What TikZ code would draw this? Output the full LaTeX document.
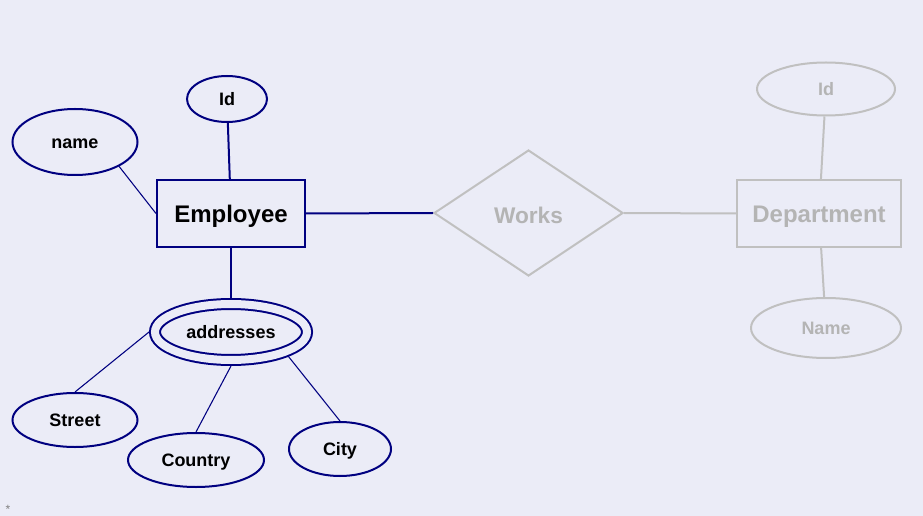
\documentclass[tikz,border=0pt]{standalone}
\usepackage{fontspec}
\setmainfont{Liberation Sans}
\usetikzlibrary{shapes.geometric}
\usetikzlibrary{positioning}
\definecolor{erblue}{RGB}{0,0,128}
\definecolor{ergrey}{RGB}{192,192,192}
\definecolor{ergreytext}{RGB}{180,180,180}
\definecolor{slidebg}{RGB}{235,236,247}
\tikzset{
    attribute/.style={
        draw=erblue,
        line width=1.5pt,
        ellipse,
        inner sep=0,
        text height=12.2pt,
        text depth=2.9pt,
        font=\fontsize{13.5}{16}\selectfont\bfseries,
    },
    multi attribute/.style={
        attribute,
        double=slidebg,
        double distance=6pt,
        outer sep=4.5pt,
    },
    entity/.style={
        draw=erblue,
        line width=1.5pt,
        rectangle,
        inner sep=0,
        text height=17.3pt,
        text depth=3.8pt,
        font=\fontsize{18}{21}\selectfont\bfseries,
    },
    relation/.style={
        draw=ergrey,
        line width=1.5pt,
        diamond,
        aspect=1.5,
        inner sep=0,
        text height=19pt,
        text depth=3.6pt,
        text=ergreytext,
        font=\fontsize{17}{20}\selectfont\bfseries,
    },
    faded/.style={
        draw=ergrey,
        text=ergreytext,
    },
    thin link/.style={
        draw=erblue,
        line width=0.8pt,
    },
    thick link/.style={
        draw=erblue,
        line width=1.5pt,
    },
    faded link/.style={
        draw=ergrey,
        line width=1.5pt,
    },
}

\begin{document}
\begin{tikzpicture}[x=0.75pt, y=-0.75pt]

    \fill[slidebg] (0,0) rectangle (923,516);
    \useasboundingbox (0,0) rectangle (923,516);

    % Employee and its attributes
    \node[entity, minimum width=111pt, minimum height=50.25pt] (employee) at (231,213.5) {Employee};
    \node[attribute, minimum width=60pt, minimum height=34.5pt] (empid) at (227,99) {Id};
    \node[attribute, minimum width=93.75pt, minimum height=49.5pt] (empname) at (75,142) {name};
    \node[multi attribute, minimum width=114pt, minimum height=42pt] (addr) at (231,332) {addresses};

    \node[attribute, minimum width=93.75pt, minimum height=40.5pt] (street) at (75,420) {Street};
    \node[attribute, minimum width=102pt, minimum height=40.5pt] (country) at (196,460) {Country};
    \node[attribute, minimum width=76.5pt, minimum height=40.5pt] (city) at (340,449) {City};

    % Works / Department (greyed out)
    \node[relation, minimum width=141.75pt, minimum height=94.5pt] (works) at (528.5,213) {Works};
    \node[entity, faded, minimum width=123pt, minimum height=50.25pt] (dept) at (819,213.5) {Department};
    \node[attribute, faded, minimum width=103.5pt, minimum height=39.75pt] (deptid) at (826,89) {Id};
    \node[attribute, faded, minimum width=112.5pt, minimum height=45pt] (deptname) at (826,328) {Name};

    \draw[thick link] (empid) -- (employee);
    \draw[thin link] (empname.-29) -- (employee.west);
    \draw[thin link] (employee) -- (addr);
    \draw[thin link] (addr.west) -- (street.north);
    \draw[thin link] (addr.south) -- (country.north);
    \draw[thin link] (addr.-23) -- (city.north);
    \draw[thick link] (employee.east) -- (works.west);

    \draw[faded link] (works.east) -- (dept.west);
    \draw[faded link] (deptid) -- (dept);
    \draw[faded link] (dept) -- (deptname);

    \node[text=gray, font=\small, inner sep=0] (star) at (8,509) {*};

\end{tikzpicture}
\end{document}
